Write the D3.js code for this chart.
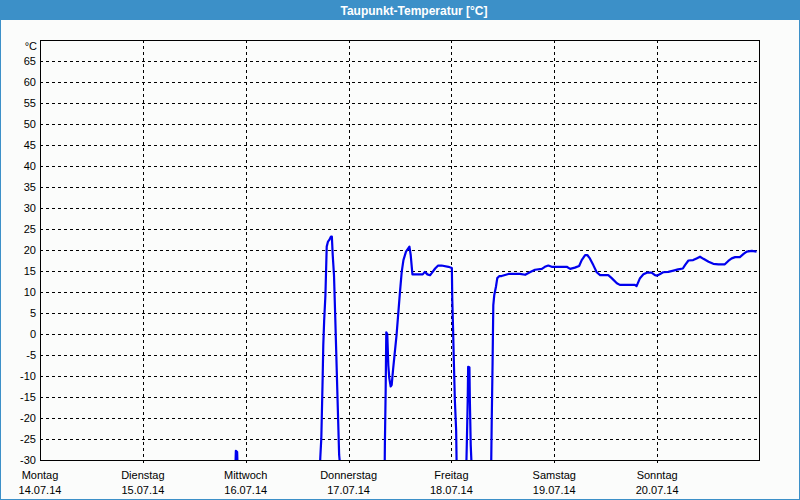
<!DOCTYPE html>
<html><head><meta charset="utf-8">
<script src="https://cdn.jsdelivr.net/npm/d3@7"></script>
<style>
html,body{margin:0;padding:0;background:#fff;}
svg{display:block;}
text{font-family:"Liberation Sans",Arial,sans-serif;}
</style></head>
<body>
<svg id="chart" width="800" height="500"></svg>
<script>
const title = "Taupunkt-Temperatur [°C]";
const unitLabel = "°C";
const dayNames = ["Montag","Dienstag","Mittwoch","Donnerstag","Freitag","Samstag","Sonntag"];
const dayDates = ["14.07.14","15.07.14","16.07.14","17.07.14","18.07.14","19.07.14","20.07.14"];
const yTicks = [-30,-25,-20,-15,-10,-5,0,5,10,15,20,25,30,35,40,45,50,55,60,65];
const yDomain = [-30, 70];
// hours since Monday 14.07.14 00:00
const hours = [0, 45.5, 45.7, 46.0, 46.2,
  65.2, 65.4, 65.64, 65.8, 65.96, 66.1, 66.3, 66.6, 66.9, 67.2, 67.5, 67.9, 68.1, 68.3, 68.6, 68.9, 69.4, 69.8, 70.0, 70.2,
  80.4, 80.47, 80.66, 80.8, 81.03, 81.27, 81.5, 81.83, 82.06, 82.37, 83.2, 84.0, 84.4, 84.8, 85.4, 86.2, 86.5, 86.9, 89.3, 89.8, 90.4, 91.0, 91.4, 92.2, 92.9, 93.7, 95.3, 96.1, 96.2, 96.4, 96.6, 96.8, 97.1, 97.2, 97.4,
  99.4, 99.6, 99.8, 99.9, 100.2, 100.3, 100.5, 100.7, 100.9,
  105.23, 105.4, 105.6, 105.77, 106.0, 106.4, 106.7, 107.2, 107.7, 109.3, 112.0, 113.2, 114.3, 115.5, 117.1, 117.8, 118.6, 119.4, 122.9, 123.7, 124.8, 125.8, 126.4, 127.2, 127.7, 128.3, 129.1, 129.9, 130.7, 132.6, 133.4, 134.6, 135.3, 138.8, 139.2, 140.0, 140.8, 141.6, 142.7, 143.5, 144.0, 144.7, 145.4, 146.6, 147.8, 148.9, 150.0, 150.5, 151.3, 152.4, 153.2, 154.0, 154.8, 156.0, 157.1, 158.3, 159.8, 160.6, 161.4, 162.2, 163.3, 164.1, 164.9, 166.1, 167.2];
const dewpoint = [-40, -35, -27.8, -28.1, -35,
  -35, -29.45, -24.8, -17.5, -10.2, -2.6, 3.1, 9.3, 20.8, 22.0, 22.4, 23.2, 23.2, 18.8, 14.0, 3.7, -14.5, -28.8, -31, -35,
  -35, -26.6, -13.1, 0.4, 0.0, -7.4, -10.5, -12.5, -12.1, -8.6, -0.2, 10.1, 14.8, 17.6, 19.6, 20.8, 18.8, 14.2, 14.2, 14.8, 14.2, 14.0, 14.5, 15.6, 16.3, 16.3, 16.0, 15.7, 8.1, 0.5, -7.8, -15.7, -22.9, -30, -35,
  -35, -25.7, -15.7, -7.8, -7.9, -15.7, -26.4, -31.2, -35,
  -35, -20.9, -7.0, 6.9, 9.3, 11.3, 13.3, 13.8, 13.8, 14.3, 14.3, 14.1, 14.7, 15.3, 15.5, 16.0, 16.3, 16.0, 16.0, 15.5, 15.8, 16.2, 17.6, 18.8, 18.8, 18.0, 16.4, 14.7, 14.0, 14.0, 13.3, 12.1, 11.7, 11.7, 11.4, 13.3, 14.2, 14.6, 14.6, 14.0, 13.9, 14.3, 14.7, 14.8, 15.1, 15.4, 15.6, 16.4, 17.5, 17.6, 18.0, 18.4, 17.9, 17.2, 16.7, 16.6, 16.6, 17.4, 18.0, 18.3, 18.3, 19.0, 19.6, 19.8, 19.6];

const W = 800, H = 500;
const plot = {l: 40, t: 40, r: 760, b: 460};
const start = new Date(2014, 6, 14);
const end = new Date(2014, 6, 21);
const dayDatesObj = dayNames.map((d, i) => d3.timeDay.offset(start, i));

const svg = d3.select("#chart");
// background
svg.append("rect").attr("width", W).attr("height", H).attr("fill", "#fbfcfb");
// window border
svg.append("rect").attr("x", 0.5).attr("y", 0.5).attr("width", W - 1).attr("height", H - 1)
  .attr("fill", "none").attr("stroke", "#3c90c8").attr("stroke-width", 1);
// title bar
svg.append("rect").attr("x", 0).attr("y", 0).attr("width", W).attr("height", 20).attr("fill", "#3c90c8");
svg.append("text").attr("x", 414).attr("y", 14.5).attr("text-anchor", "middle")
  .attr("fill", "#fff").attr("font-size", "12px").attr("font-weight", "bold").text(title);

const x = d3.scaleTime().domain([start, end]).range([plot.l, plot.r]);
const y = d3.scaleLinear().domain(yDomain).range([plot.b, plot.t]);

const grid = svg.append("g").attr("stroke", "#000").attr("stroke-width", 1).attr("stroke-dasharray", "3,3");
grid.selectAll("line.h").data(yTicks.filter(v => v > yDomain[0])).join("line")
  .attr("x1", plot.l).attr("x2", plot.r)
  .attr("y1", d => Math.round(y(d)) + 0.5).attr("y2", d => Math.round(y(d)) + 0.5);
grid.selectAll("line.v").data(dayDatesObj.slice(1)).join("line")
  .attr("y1", plot.t).attr("y2", plot.b + 4)
  .attr("x1", d => Math.round(x(d)) + 0.5).attr("x2", d => Math.round(x(d)) + 0.5);

// y labels
const yl = svg.append("g").attr("font-size", "11px").attr("fill", "#000").attr("text-anchor", "end");
yl.selectAll("text").data(yTicks).join("text")
  .attr("x", 36).attr("y", d => y(d) + 4).text(d => d);
yl.append("text").attr("x", 37).attr("y", 50).text(unitLabel);

// x labels
const xl = svg.append("g").attr("font-size", "11px").attr("fill", "#000").attr("text-anchor", "middle");
xl.selectAll("text.n").data(dayDatesObj).join("text").attr("class", "n")
  .attr("x", d => x(d)).attr("y", 479).text((d, i) => dayNames[i]);
xl.selectAll("text.d").data(dayDatesObj).join("text").attr("class", "d")
  .attr("x", d => x(d)).attr("y", 494).text((d, i) => dayDates[i]);

// data line
svg.append("clipPath").attr("id", "clip").append("rect")
  .attr("x", plot.l).attr("y", plot.t).attr("width", plot.r - plot.l).attr("height", plot.b - plot.t);
const data = hours.map((h, i) => ({t: new Date(start.getTime() + h * 3600e3), v: dewpoint[i]}));
const line = d3.line().x(d => x(d.t)).y(d => y(d.v));
svg.append("path").datum(data).attr("clip-path", "url(#clip)")
  .attr("fill", "none").attr("stroke", "#0000ee").attr("stroke-width", 2.2)
  .attr("stroke-linejoin", "round").attr("d", line);

// frame
svg.append("rect").attr("x", plot.l + 0.5).attr("y", plot.t + 0.5)
  .attr("width", plot.r - plot.l - 1).attr("height", plot.b - plot.t)
  .attr("fill", "none").attr("stroke", "#000").attr("stroke-width", 1);
</script>
</body></html>
